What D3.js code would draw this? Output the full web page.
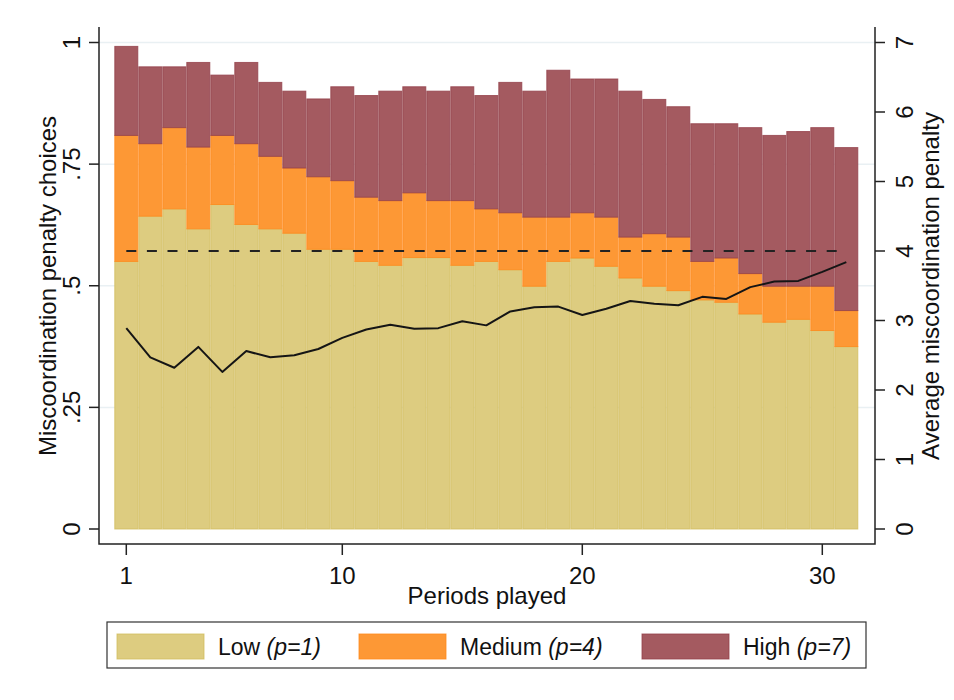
<!DOCTYPE html>
<html>
<head>
<meta charset="utf-8">
<script src="https://cdn.jsdelivr.net/npm/d3@7"></script>
<style>
  body { margin:0; background:#fff; }
  text { font-family: "Liberation Sans", Arial, sans-serif; fill:#111; }
</style>
</head>
<body>
<svg class="chart"></svg>
<script>
// periods 1..31
var periods = d3.range(1, 32);

// share of choices per penalty level
var lowShare  = [.550,.643,.658,.617,.667,.626,.617,.608,.575,.575,.550,.542,.558,.558,.542,.550,
                 .533,.499,.550,.557,.540,.516,.499,.490,.471,.466,.442,.425,.431,.408,.375];
var medShare  = [.259,.149,.167,.168,.142,.166,.149,.134,.149,.141,.132,.133,.133,.117,.133,.108,
                 .117,.142,.091,.093,.101,.084,.108,.110,.079,.091,.083,.074,.068,.091,.074];
var highShare = [.183,.158,.125,.174,.124,.167,.152,.158,.160,.193,.209,.225,.218,.225,.234,.233,
                 .268,.259,.302,.275,.284,.300,.276,.268,.283,.276,.300,.310,.318,.326,.335];

// average miscoordination penalty (right axis)
var avgPenalty = [2.89,2.47,2.32,2.62,2.26,2.56,2.47,2.50,2.59,2.75,2.87,2.94,2.88,2.89,2.99,2.93,
                  3.13,3.19,3.20,3.08,3.17,3.28,3.24,3.22,3.34,3.31,3.48,3.56,3.57,3.70,3.84];
var refPenalty = 4;

var leftTicks = [0, .25, .5, .75, 1];
var leftTickLabels = ['0', '.25', '.5', '.75', '1'];
var rightTicks = [0,1,2,3,4,5,6,7];
var xTicks = [1, 10, 20, 30];

var keys = ['low','medium','high'];
var legendLabels = [['Low ','(p=1)'],['Medium ','(p=4)'],['High ','(p=7)']];
var fills   = {low:'#ddcc80', medium:'#fd9835', high:'#a45a60'};
var strokes = {low:'#d2bd5e', medium:'#ff8a1c', high:'#94404a'};

var svgwidth = 954, svgheight = 700;

var plot = {left:99, right:875, top:27, bottom:544};

var svg = d3.select('.chart').attr('width',svgwidth).attr('height',svgheight);

var xscale = d3.scaleLinear().domain([1,30]).range([126.3,822.3]);
var yscale = d3.scaleLinear().domain([0,1]).range([529,42.5]);
var y2scale = d3.scaleLinear().domain([0,7]).range([529,42.5]);
var barw = xscale(2) - xscale(1);

// gridlines
svg.append('g').selectAll('line').data(leftTicks.slice(1)).enter().append('line')
   .attr('x1',plot.left).attr('x2',plot.right)
   .attr('y1',function(d){return yscale(d);})
   .attr('y2',function(d){return yscale(d);})
   .attr('stroke','#e9f0f3').attr('stroke-width',1.5);

// stacked bars
var table = periods.map(function(p,i){
  return {period:p, low:lowShare[i], medium:medShare[i], high:highShare[i]};
});
var stack = d3.stack().keys(keys)(table);

svg.append('g').selectAll('g').data(stack).enter().append('g')
   .attr('fill',function(d){return fills[d.key];})
   .attr('stroke',function(d){return strokes[d.key];})
   .attr('stroke-opacity',0.8)
   .selectAll('rect').data(function(d){return d;}).enter().append('rect')
   .attr('x',function(d){return xscale(d.data.period)-barw/2+0.5;})
   .attr('width',barw-1)
   .attr('y',function(d){return yscale(d[1]);})
   .attr('height',function(d){return yscale(d[0])-yscale(d[1]);})
   .attr('stroke-width',1);

// reference dashed line at 4
svg.append('line')
   .attr('x1',xscale(1)).attr('x2',xscale(31))
   .attr('y1',y2scale(refPenalty)).attr('y2',y2scale(refPenalty))
   .attr('stroke','#222').attr('stroke-width',2)
   .style('stroke-dasharray','10,10.6');

// average penalty line
var linegen = d3.line()
  .x(function(d,i){return xscale(periods[i]);})
  .y(function(d){return y2scale(d);});

svg.append('path').attr('d',linegen(avgPenalty))
   .attr('fill','none').attr('stroke','#151515').attr('stroke-width',2)
   .attr('stroke-linejoin','round');

// axes lines
var axes = svg.append('g').attr('stroke','#222').attr('stroke-width',1.5).attr('fill','none');
axes.append('path').attr('d','M'+plot.left+','+plot.top+'V'+plot.bottom+'H'+plot.right+'V'+plot.top);

// left ticks
axes.selectAll('.lt').data(leftTicks).enter().append('line')
    .attr('x1',plot.left-10).attr('x2',plot.left)
    .attr('y1',function(d){return yscale(d);}).attr('y2',function(d){return yscale(d);});
// right ticks
axes.selectAll('.rt').data(rightTicks).enter().append('line')
    .attr('x1',plot.right).attr('x2',plot.right+10)
    .attr('y1',function(d){return y2scale(d);}).attr('y2',function(d){return y2scale(d);});
// bottom ticks
axes.selectAll('.bt').data(xTicks).enter().append('line')
    .attr('x1',function(d){return xscale(d);}).attr('x2',function(d){return xscale(d);})
    .attr('y1',plot.bottom).attr('y2',plot.bottom+11);

// tick labels
svg.selectAll('.ltl').data(leftTicks).enter().append('text')
   .attr('transform',function(d){return 'translate(80,'+yscale(d)+') rotate(-90)';})
   .attr('text-anchor','middle').style('font-size','24px')
   .text(function(d,i){return leftTickLabels[i];});

svg.selectAll('.rtl').data(rightTicks).enter().append('text')
   .attr('transform',function(d){return 'translate(913,'+y2scale(d)+') rotate(-90)';})
   .attr('text-anchor','middle').style('font-size','24px')
   .text(function(d){return d;});

svg.selectAll('.xtl').data(xTicks).enter().append('text')
   .attr('x',function(d){return xscale(d);}).attr('y',584)
   .attr('text-anchor','middle').style('font-size','24px')
   .text(function(d){return d;});

// axis titles
svg.append('text').attr('x',(plot.left+plot.right)/2).attr('y',604)
   .attr('text-anchor','middle').style('font-size','24px').text('Periods played');

svg.append('text').attr('transform','translate(56,286) rotate(-90)')
   .attr('text-anchor','middle').style('font-size','24px').text('Miscoordination penalty choices');

svg.append('text').attr('transform','translate(939,286) rotate(-90)')
   .attr('text-anchor','middle').style('font-size','24px').text('Average miscoordination penalty');

// legend
var legend = svg.append('g');
legend.append('rect').attr('x',107).attr('y',622).attr('width',759).attr('height',46)
      .attr('fill','#fff').attr('stroke','#333').attr('stroke-width',1.2);

var legendX = [117, 359, 642];
var items = legend.selectAll('.item').data(keys).enter().append('g')
      .attr('transform',function(d,i){return 'translate('+legendX[i]+',634)';});
items.append('rect').attr('width',87).attr('height',25)
     .attr('fill',function(d){return fills[d];})
     .attr('stroke',function(d){return strokes[d];})
     .attr('stroke-opacity',0.8);
var lt = items.append('text').attr('x',101).attr('y',21).style('font-size','23px');
lt.append('tspan').text(function(d,i){return legendLabels[i][0];});
lt.append('tspan').style('font-style','italic').text(function(d,i){return legendLabels[i][1];});
</script>
</body>
</html>
